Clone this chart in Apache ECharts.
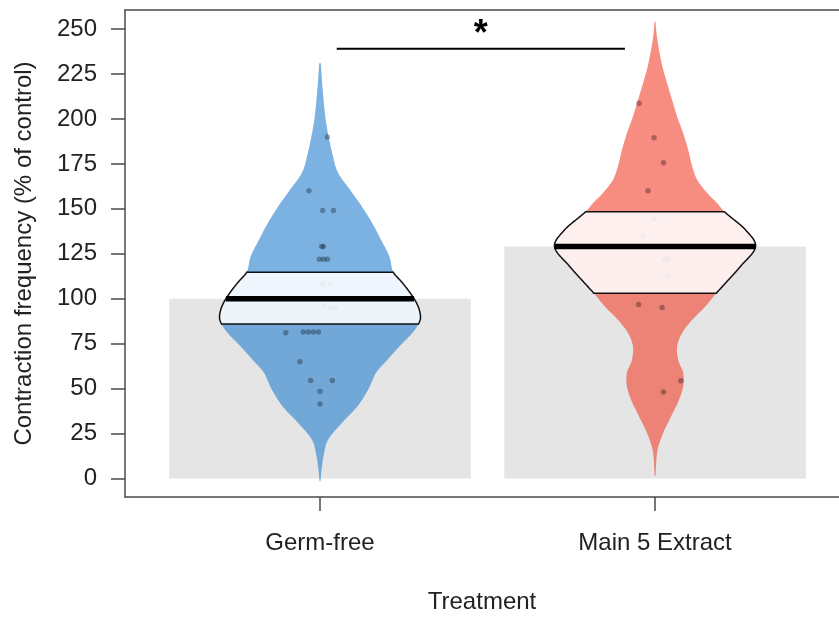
<!DOCTYPE html>
<html>
<head>
<meta charset="utf-8">
<title>Contraction frequency by treatment</title>
<script src="https://cdn.jsdelivr.net/npm/echarts@6/dist/echarts.min.js"></script>
<style>
  html, body { margin: 0; padding: 0; background: #ffffff; }
  #chart { width: 839px; height: 617px; }
</style>
</head>
<body>
<div id="chart"></div>
<script>
// ---- data ----
const groups = ['Germ-free', 'Main 5 Extract'];
const groupMeans = [100, 129];
const hdiLower = [86, 103.1];
const hdiUpper = [114.7, 148.4];

const germFreeValues = [190, 160, 149, 149, 129, 129, 122, 122, 122, 108, 108, 96, 95, 95,
                        81, 81.5, 81.5, 81.5, 81.5, 65, 54.5, 54.5, 48.5, 41.5];
const germFreeJitter = [0.022, -0.033, 0.008, 0.04, 0.005, 0.01, -0.002, 0.01, 0.022, 0.008, 0.03, 0.01, 0.03, 0.045,
                        -0.102, -0.05, -0.035, -0.02, -0.005, -0.06, -0.028, 0.037, 0, 0];

const mainExtractValues = [208.7, 189.6, 175.7, 160.1, 144.4, 135.1, 122, 122, 112.4, 96.8, 95.1, 54.4, 48.1];
const mainExtractJitter = [-0.048, -0.003, 0.025, -0.021, -0.003, -0.035, 0.027, 0.039, 0.04, -0.049, 0.021, 0.077, 0.025];

// smoothed density of each group (relative to the widest point), sampled at these levels
const germFreeDensityAt = [-1.5, 3, 12.5, 21.5, 31, 40, 49.5, 59, 66, 73.5, 81, 86, 90, 96.5, 103, 109.5,
                           114.7, 123.5, 132.5, 142, 151, 160.5, 170, 179, 197.5, 216, 231];
const germFreeDensity = [0.005, 0.012, 0.035, 0.08, 0.22, 0.37, 0.48, 0.56, 0.67, 0.79, 0.92, 0.98, 1.0, 0.97, 0.90, 0.81,
                         0.73, 0.69, 0.61, 0.52, 0.42, 0.30, 0.18, 0.13, 0.062, 0.027, 0.008];

const mainExtractDensityAt = [1.5, 7.8, 16, 25.3, 34.6, 44, 51.3, 58.7, 66, 73.5, 81, 88.3, 95.7, 103.1, 106.8, 118,
                              129, 138.3, 148.4, 153, 158.7, 166, 173.5, 182.7, 192, 201.3, 210.5, 219.8, 229, 238.3, 247.4, 254];
const mainExtractDensity = [0.005, 0.01, 0.025, 0.08, 0.16, 0.24, 0.28, 0.28, 0.23, 0.22, 0.27, 0.37, 0.50, 0.61, 0.67, 0.85,
                            1.00, 0.90, 0.69, 0.62, 0.52, 0.42, 0.37, 0.33, 0.28, 0.22, 0.17, 0.12, 0.074, 0.04, 0.015, 0.005];

const yTicks = [0, 25, 50, 75, 100, 125, 150, 175, 200, 225, 250];
const xTicks = [1, 2];

// significance bracket between the two groups
const sigFrom = [1.05];
const sigTo = [1.91];
const sigLevel = [239];
const sigText = ['*'];

// ---- styling ----
const FONT = '"Liberation Sans", Arial, Helvetica, sans-serif';
const TEXT = '#222222';
const FRAME = '#4a4a4a';
const VIOLIN_HALF = 0.30;   // half width of a violin at its densest level (x units)
const BAR_HALF = 0.45;      // half width of the background bars (x units)
const violinColors = ['rgba(37,127,207,0.6)', 'rgba(242,63,43,0.6)'];
const bandFill = 'rgba(255,255,255,0.87)';

const densityAt = [germFreeDensityAt, mainExtractDensityAt];
const densityVal = [germFreeDensity, mainExtractDensity];

// cubic Hermite curve through the sampled density so outlines are drawn smoothly
function profileFn(at, dens) {
  const n = at.length;
  const m = at.map((_, i) => {
    if (i === 0) return (dens[1] - dens[0]) / (at[1] - at[0]);
    if (i === n - 1) return (dens[n - 1] - dens[n - 2]) / (at[n - 1] - at[n - 2]);
    return (dens[i + 1] - dens[i - 1]) / (at[i + 1] - at[i - 1]);
  });
  return function (v) {
    if (v <= at[0]) return dens[0];
    if (v >= at[n - 1]) return dens[n - 1];
    let i = 0;
    while (at[i + 1] < v) i++;
    const h = at[i + 1] - at[i], t = (v - at[i]) / h;
    const t2 = t * t, t3 = t2 * t;
    const y = (2 * t3 - 3 * t2 + 1) * dens[i] + (t3 - 2 * t2 + t) * h * m[i] +
              (-2 * t3 + 3 * t2) * dens[i + 1] + (t3 - t2) * h * m[i + 1];
    return Math.max(y, 0.003);
  };
}
const profiles = [0, 1].map(g => profileFn(densityAt[g], densityVal[g]));

function outline(api, g, lo, hi) {
  const f = profiles[g], cx = g + 1;
  const right = [], left = [];
  const steps = Math.max(2, Math.ceil((hi - lo) / 0.5));
  for (let k = 0; k <= steps; k++) {
    const v = lo + (hi - lo) * k / steps;
    const w = f(v) * VIOLIN_HALF;
    right.push(api.coord([cx + w, v]));
    left.push(api.coord([cx - w, v]));
  }
  return right.concat(left.reverse());
}

const groupData = groups.map((_, g) => [g + 1, groupMeans[g]]);

const chart = echarts.init(document.getElementById('chart'), null, { renderer: 'canvas' });

const frameLine = { show: true, onZero: false, lineStyle: { color: FRAME, width: 1.5 } };

chart.setOption({
  backgroundColor: '#ffffff',
  animation: false,
  grid: { left: 125, top: 10, right: 0, bottom: 120, show: false, outerBoundsMode: 'none', containLabel: false },
  xAxis: [
    {
      type: 'value',
      position: 'bottom',
      min: 0.418, max: 2.549,
      name: 'Treatment',
      nameLocation: 'middle',
      nameGap: 93,
      nameTextStyle: { fontFamily: FONT, fontSize: 24, color: TEXT },
      axisLine: frameLine,
      axisTick: { show: true, customValues: xTicks, length: 14, lineStyle: { color: FRAME, width: 1.5 } },
      axisLabel: {
        show: true, customValues: xTicks, margin: 34,
        fontFamily: FONT, fontSize: 24, color: TEXT,
        formatter: v => groups[Math.round(v) - 1] || ''
      },
      splitLine: { show: false }
    },
    {
      // top edge of the plot frame
      type: 'value',
      position: 'top',
      min: 0.418, max: 2.549,
      axisLine: frameLine,
      axisTick: { show: false },
      axisLabel: { show: false },
      splitLine: { show: false }
    }
  ],
  yAxis: {
    type: 'value',
    min: -10.3, max: 260.6,
    name: 'Contraction frequency (% of control)',
    nameLocation: 'middle',
    nameGap: 89,
    nameTextStyle: { fontFamily: FONT, fontSize: 24, color: TEXT },
    axisLine: frameLine,
    axisTick: { show: true, customValues: yTicks, length: 14, lineStyle: { color: FRAME, width: 1.5 } },
    axisLabel: {
      show: true, customValues: yTicks, margin: 28,
      fontFamily: FONT, fontSize: 24, color: TEXT
    },
    splitLine: { show: false }
  },
  series: [
    {
      // background bars at the group means
      type: 'custom', z: 1, silent: true,
      data: groupData,
      renderItem: (params, api) => {
        const g = params.dataIndex;
        const p0 = api.coord([g + 1 - BAR_HALF, groupMeans[g]]);
        const p1 = api.coord([g + 1 + BAR_HALF, 0]);
        return {
          type: 'rect',
          shape: { x: p0[0], y: p0[1], width: p1[0] - p0[0], height: p1[1] - p0[1] },
          style: { fill: '#e5e5e5' }
        };
      }
    },
    {
      // density violins
      type: 'custom', z: 2, silent: true,
      data: groupData,
      renderItem: (params, api) => {
        const g = params.dataIndex;
        const at = densityAt[g];
        return {
          type: 'polygon',
          shape: { points: outline(api, g, at[0], at[at.length - 1]) },
          style: { fill: violinColors[g] }
        };
      }
    },
    {
      type: 'scatter', z: 3, silent: true,
      symbol: 'circle', symbolSize: 5.5,
      itemStyle: { color: 'rgba(0,0,0,0.38)' },
      data: germFreeValues.map((v, i) => [1 + germFreeJitter[i], v])
    },
    {
      type: 'scatter', z: 3, silent: true,
      symbol: 'circle', symbolSize: 5.5,
      itemStyle: { color: 'rgba(0,0,0,0.38)' },
      data: mainExtractValues.map((v, i) => [2 + mainExtractJitter[i], v])
    },
    {
      // inference bands
      type: 'custom', z: 4, silent: true,
      data: groupData,
      renderItem: (params, api) => {
        const g = params.dataIndex;
        return {
          type: 'polygon',
          shape: { points: outline(api, g, hdiLower[g], hdiUpper[g]) },
          style: { fill: bandFill, stroke: '#111111', lineWidth: 1.5 }
        };
      }
    },
    {
      // mean lines across the violin
      type: 'custom', z: 5, silent: true,
      data: groupData,
      renderItem: (params, api) => {
        const g = params.dataIndex;
        const w = profiles[g](groupMeans[g]) * VIOLIN_HALF;
        const a = api.coord([g + 1 - w, groupMeans[g]]);
        const b = api.coord([g + 1 + w, groupMeans[g]]);
        return {
          type: 'line',
          shape: { x1: a[0], y1: a[1], x2: b[0], y2: b[1] },
          style: { stroke: '#000000', lineWidth: 5.5 }
        };
      }
    },
    {
      // significance bracket
      type: 'custom', z: 6, silent: true,
      data: sigLevel.map((lv, i) => [(sigFrom[i] + sigTo[i]) / 2, lv]),
      renderItem: (params, api) => {
        const i = params.dataIndex;
        const a = api.coord([sigFrom[i], sigLevel[i]]);
        const b = api.coord([sigTo[i], sigLevel[i]]);
        const mid = api.coord([(sigFrom[i] + sigTo[i]) / 2, sigLevel[i]]);
        return {
          type: 'group',
          children: [
            {
              type: 'line',
              shape: { x1: a[0], y1: a[1], x2: b[0], y2: b[1] },
              style: { stroke: '#000000', lineWidth: 2 }
            },
            {
              type: 'text',
              x: mid[0], y: mid[1] - 14,
              style: {
                text: sigText[i], fill: '#000000',
                font: 'bold 36px ' + FONT,
                textAlign: 'center', textVerticalAlign: 'middle'
              }
            }
          ]
        };
      }
    }
  ]
});
</script>
</body>
</html>
